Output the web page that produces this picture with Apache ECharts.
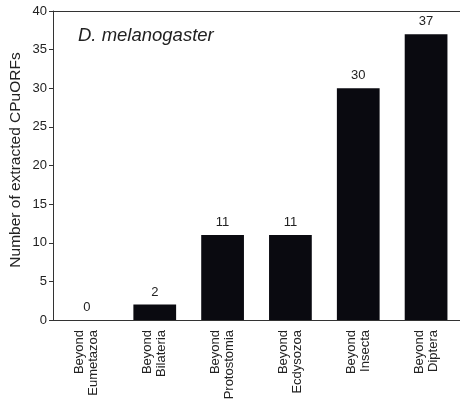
<!DOCTYPE html>
<html>
<head>
<meta charset="utf-8">
<script src="https://cdn.jsdelivr.net/npm/echarts@6/dist/echarts.min.js"></script>
<style>
  html, body { margin: 0; padding: 0; background: #fff; }
  #chart { width: 460px; height: 405px; }
</style>
</head>
<body>
<div id="chart"></div>
<script>
// Conservation categories of CPuORFs
const categories = [
  'Beyond\nEumetazoa',
  'Beyond\nBilateria',
  'Beyond\nProtostomia',
  'Beyond\nEcdysozoa',
  'Beyond\nInsecta',
  'Beyond\nDiptera'
];
const counts = [0, 2, 11, 11, 30, 37];
const yTicks = { min: 0, max: 40, step: 5 };
const yTitle = 'Number of extracted CPuORFs';

const FONT = '"Liberation Sans", Arial, Helvetica, sans-serif';
const AXIS = '#333';
const TEXT = '#222';

const chart = echarts.init(document.getElementById('chart'), null, { renderer: 'canvas' });
chart.setOption({
  animation: false,
  backgroundColor: '#fff',
  textStyle: { fontFamily: FONT },
  title: {
    text: 'D. melanogaster',
    left: 73,
    top: 21,
    textStyle: { fontFamily: FONT, fontStyle: 'italic', fontWeight: 'normal', fontSize: 18.5, color: TEXT }
  },
  graphic: [{
    type: 'text',
    x: 16,
    y: 160,
    rotation: Math.PI / 2,
    style: {
      text: yTitle,
      fontFamily: FONT,
      fontSize: 15.5,
      fill: TEXT,
      textAlign: 'center',
      textVerticalAlign: 'middle'
    }
  }],
  grid: { left: 53, top: 11, width: 408, height: 309, containLabel: false },
  xAxis: [{
    type: 'category',
    data: categories,
    axisLine: { show: true, lineStyle: { color: AXIS, width: 1 } },
    axisTick: { show: false },
    axisLabel: {
      rotate: 90,
      margin: 10,
      fontSize: 13,
      lineHeight: 14,
      color: TEXT,
      fontFamily: FONT,
      align: 'right'
    }
  }, {
    type: 'category',
    position: 'top',
    data: categories,
    axisLine: { show: true, lineStyle: { color: AXIS, width: 1 } },
    axisTick: { show: false },
    axisLabel: { show: false }
  }],
  yAxis: {
    type: 'value',
    min: yTicks.min,
    max: yTicks.max,
    interval: yTicks.step,
    axisLine: { show: true, lineStyle: { color: AXIS, width: 1 } },
    axisTick: { show: true, length: 4, lineStyle: { color: AXIS } },
    axisLabel: { fontSize: 13, color: TEXT, margin: 6, fontFamily: FONT },
    splitLine: { show: false }
  },
  series: [{
    type: 'bar',
    data: counts,
    barWidth: '63%',
    itemStyle: { color: '#0a0a10' },
    label: {
      show: true,
      position: 'top',
      distance: 6,
      fontSize: 13,
      color: TEXT,
      fontFamily: FONT
    }
  }]
});
</script>
</body>
</html>
